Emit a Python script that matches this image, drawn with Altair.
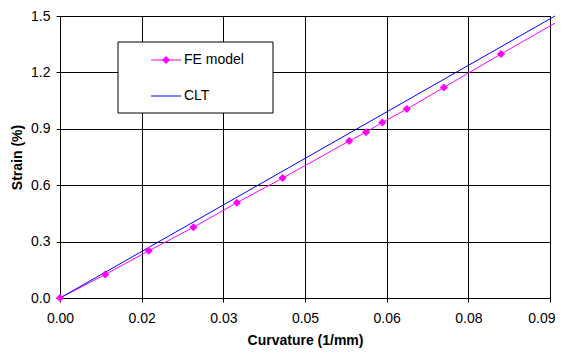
import altair as alt
import pandas as pd

# ---- data ----
x_ticks = [0.0, 0.015, 0.03, 0.045, 0.06, 0.075, 0.09]
x_tick_labels = ["0.00", "0.02", "0.03", "0.05", "0.06", "0.08", "0.09"]
y_ticks = [0.0, 0.3, 0.6, 0.9, 1.2, 1.5]

fe_x = [0.0, 0.0083, 0.0163, 0.0245, 0.0325, 0.0409, 0.0531, 0.0562, 0.0592, 0.0637, 0.0705, 0.0810]
fe_y = [0.0, 0.125, 0.251, 0.376, 0.507, 0.638, 0.835, 0.882, 0.934, 1.005, 1.120, 1.298]
# FE line continues past the last marker
fe_tail_x = [0.0911]
fe_tail_y = [1.465]

clt_x = [0.0, 0.0911]
clt_y = [0.0, 1.503]

series_names = ["FE model", "CLT"]
series_colors = ["#FF00FF", "#0000FF"]

FONT = "Liberation Sans"

rows = []
for i, (x, y) in enumerate(zip(fe_x + fe_tail_x, fe_y + fe_tail_y)):
    rows.append({"series": "FE model", "x": x, "y": y, "o": i})
for i, (x, y) in enumerate(zip(clt_x, clt_y)):
    rows.append({"series": "CLT", "x": x, "y": y, "o": i})
lines_df = pd.DataFrame(rows)
pts_df = pd.DataFrame({"x": fe_x, "y": fe_y})

label_expr = "[" + ",".join(f"'{l}'" for l in x_tick_labels) + "][round(datum.value/0.015)]"

xenc = alt.X(
    "x:Q",
    scale=alt.Scale(domain=[0, 0.09], nice=False, zero=False),
    axis=alt.Axis(
        values=x_ticks, labelExpr=label_expr, title="Curvature (1/mm)",
        grid=True, labelFlush=False, labelPadding=9, titlePadding=8,
        labelAlign=alt.condition("datum.value >= 0.0899", alt.value("right"), alt.value("center")),
        labelOffset=alt.condition("datum.value >= 0.0899", alt.value(5), alt.value(0)),
    ),
)
yenc = alt.Y(
    "y:Q",
    scale=alt.Scale(domain=[0, 1.5], nice=False),
    axis=alt.Axis(values=y_ticks, format=".1f", title="Strain (%)",
                  grid=True, labelFlush=False, labelPadding=6, titlePadding=6),
)

lines = alt.Chart(lines_df).mark_line(strokeWidth=1, clip=False).encode(
    x=xenc,
    y=yenc,
    color=alt.Color("series:N", scale=alt.Scale(domain=series_names, range=series_colors), legend=None),
    order="o:Q",
)

points = alt.Chart(pts_df).mark_point(shape="diamond", filled=True, size=65, opacity=1,
                                      color=series_colors[0]).encode(x="x:Q", y="y:Q")

one = alt.Data(values=[{"a": 1}])
leg_box = alt.Chart(one).mark_rect(fill="white", stroke="black", strokeWidth=1).encode(
    x=alt.value(58), x2=alt.value(213), y=alt.value(26), y2=alt.value(97))
leg_fe_line = alt.Chart(one).mark_rule(color=series_colors[0], strokeWidth=1).encode(
    x=alt.value(91), x2=alt.value(121), y=alt.value(44))
leg_fe_pt = alt.Chart(one).mark_point(shape="diamond", filled=True, size=65, opacity=1,
                                      color=series_colors[0]).encode(x=alt.value(106), y=alt.value(44))
leg_clt_line = alt.Chart(one).mark_rule(color=series_colors[1], strokeWidth=1).encode(
    x=alt.value(91), x2=alt.value(121), y=alt.value(80))
leg_fe_txt = alt.Chart(one).mark_text(align="left", baseline="middle", font=FONT, fontSize=14,
                                      color="black").encode(
    x=alt.value(124), y=alt.value(44), text=alt.value(series_names[0]))
leg_clt_txt = alt.Chart(one).mark_text(align="left", baseline="middle", font=FONT, fontSize=14,
                                       color="black").encode(
    x=alt.value(124), y=alt.value(80), text=alt.value(series_names[1]))

chart = alt.layer(
    lines, points, leg_box, leg_fe_line, leg_fe_pt, leg_clt_line, leg_fe_txt, leg_clt_txt
).properties(
    width=490,
    height=282,
    autosize=alt.AutoSizeParams(type="none"),
    padding={"left": 52, "top": 8, "right": 5, "bottom": 50},
    background="white",
).configure_view(
    stroke="#999999", strokeWidth=1
).configure_axis(
    labelFont=FONT, labelFontSize=14, labelColor="black",
    titleFont=FONT, titleFontSize=14, titleFontWeight="bold", titleColor="black",
    gridColor="black", gridWidth=1, gridOpacity=1,
    domainColor="black", domainWidth=1,
    tickColor="black", tickSize=4, tickWidth=1,
)

chart.save("out.html", embed_options={"renderer": "svg", "actions": False})
